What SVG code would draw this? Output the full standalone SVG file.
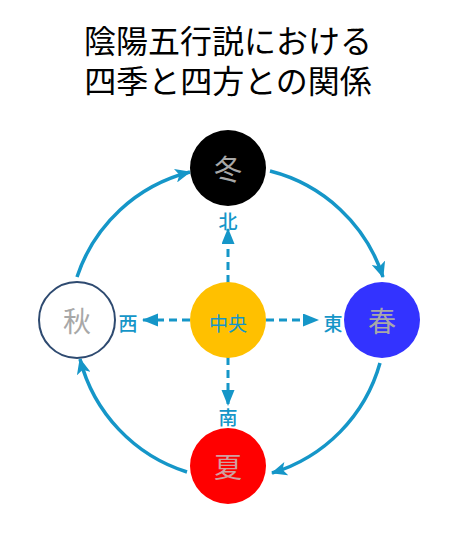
<svg xmlns="http://www.w3.org/2000/svg" width="474" height="536" viewBox="0 0 474 536">
<style>
text{font-family:"Noto Sans CJK JP","Noto Sans CJK SC",sans-serif;text-anchor:middle}
.title{font-size:32px;fill:#000}
.lbl{font-size:28px;fill:#a8a8a8;dominant-baseline:central}
.dir{font-size:19px;fill:#1596c8;dominant-baseline:central;font-weight:500}
.arc{fill:none;stroke:#1596c8;stroke-width:3.5;marker-end:url(#ah)}
.dash{fill:none;stroke:#1596c8;stroke-width:3;stroke-dasharray:8 5;marker-end:url(#ah2)}
</style>
<defs>
<marker id="ah" markerUnits="userSpaceOnUse" markerWidth="16" markerHeight="14" refX="15" refY="7" orient="auto"><path d="M0,0 L16,7 L0,14 L4,7 Z" fill="#1596c8"/></marker>
<marker id="ah2" markerUnits="userSpaceOnUse" markerWidth="16" markerHeight="14" refX="15" refY="6.5" orient="auto"><path d="M0,0 L16,6.5 L0,13 Z" fill="#1596c8"/></marker>
</defs>
<rect width="474" height="536" fill="#fff"/>
<g id="title">
<text class="title" x="228" y="53"><tspan x="228" y="53">陰陽五行説における</tspan><tspan x="228" y="93">四季と四方との関係</tspan></text>
</g>
<g id="connectors">
<path class="arc" d="M270,171 A160,160 0 0 1 383,277"/>
<path class="arc" d="M380,363 A160,160 0 0 1 272,473"/>
<path class="arc" d="M187,472 A160,160 0 0 1 80,359"/>
<path class="arc" d="M77,277 A160,160 0 0 1 190,172"/>
<path class="dash" d="M228,283 L228,229"/>
<path class="dash" d="M228,357 L228,405"/>
<path class="dash" d="M190,320 L143,320"/>
<path class="dash" d="M266,320 L318,320"/>
</g>
<g id="labels">
<text class="dir" x="228" y="220">北</text>
<text class="dir" x="228" y="416">南</text>
<text class="dir" x="128" y="322">西</text>
<text class="dir" x="333" y="322">東</text>
</g>
<g id="winter"><circle cx="228" cy="168" r="38" fill="#000"/><text class="lbl" x="228" y="168">冬</text></g>
<g id="center"><circle cx="228" cy="320" r="38" fill="#ffc000"/><text x="228" y="322" style="font-size:19px;fill:#1596c8;dominant-baseline:central">中央</text></g>
<g id="spring"><circle cx="382" cy="320" r="38" fill="#3333ff"/><text class="lbl" x="382" y="320">春</text></g>
<g id="autumn"><circle cx="77" cy="320" r="38" fill="#fff" stroke="#2e4a70" stroke-width="2"/><text class="lbl" x="77" y="320">秋</text></g>
<g id="summer"><circle cx="228" cy="466" r="38" fill="#ff0000"/><text class="lbl" x="228" y="466" style="fill:#d0a0a0">夏</text></g>
</svg>
